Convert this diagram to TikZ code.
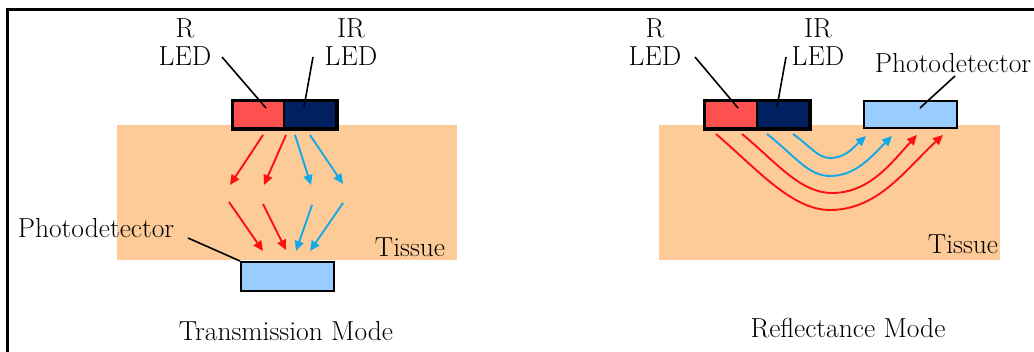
\documentclass[tikz,border=0pt]{standalone}
\usetikzlibrary{arrows.meta}
\definecolor{tissue}{HTML}{FDCB98}
\definecolor{ledred}{HTML}{FF5050}
\definecolor{lednavy}{HTML}{002060}
\definecolor{pdblue}{HTML}{99CCFF}
\definecolor{rayred}{HTML}{FF1010}
\definecolor{rayblue}{HTML}{12AAE6}
\tikzset{
  lbl/.style={font=\fontsize{27.5}{28}\selectfont, inner sep=0pt, align=center},
  tissuebox/.style={fill=tissue, draw=none},
  part/.style={draw=black, line width=2.4pt, inner sep=0pt, anchor=north west},
  leader/.style={draw=black, line width=1.6pt},
  ray/.style={line width=1.9pt, -{Triangle[length=10pt,width=9pt]}},
}
\begin{document}
\begin{tikzpicture}[x=1pt, y=-1pt]
\useasboundingbox (0,0) rectangle (1034,352);
\fill[white] (0,0) rectangle (1034,352);
% outer frame
\draw[line width=2.2pt] (7.5,352) -- (7.5,9.5) -- (1034,9.5);

% ---------------- transmission mode ----------------
\path[tissuebox] (117,125) rectangle (457,260);
\node[part, fill=ledred, minimum width=51pt, minimum height=27pt] (tr) at (232,100) {};
\node[part, fill=lednavy, minimum width=52pt, minimum height=27pt] (tir) at (283,100) {};
\draw[line width=2.4pt] (tr.north west) rectangle (tir.south east);
\node[part, fill=pdblue, minimum width=93pt, minimum height=29pt] (tpd) at (240,261) {};

\node[lbl] (trl) at (185,42) {R\\LED};
\node[lbl] (tirl) at (351,42) {IR\\LED};
\node[lbl] (tpdl) at (96,228) {Photodetector};
\node[lbl] (ttis) at (410,247) {Tissue};
\node[lbl] (tmode) at (286,331) {Transmission Mode};

\coordinate (trin) at (266,108);
\coordinate (tirin) at (304,107);
\draw[leader] (222,57) -- (trin);
\draw[leader] (313,57) -- (tirin);
\draw[leader] (188,238) -- (tpd.north west);

% rays spreading out of the LEDs
\draw[ray, rayred] (263,135) -- (230,185);
\draw[ray, rayred] (286,135) -- (264,185);
\draw[ray, rayblue] (295,135) -- (311,185);
\draw[ray, rayblue] (310,135) -- (343,184);
% rays converging on the detector
\draw[ray, rayred] (229,202) -- (263,251);
\draw[ray, rayred] (263,204) -- (286,250);
\draw[ray, rayblue] (312,205) -- (296,251);
\draw[ray, rayblue] (343,203) -- (310,251);

% ---------------- reflectance mode ----------------
\path[tissuebox] (659,125) rectangle (1000,260);
\node[part, fill=ledred, minimum width=52pt, minimum height=27pt] (rr) at (704,100) {};
\node[part, fill=lednavy, minimum width=52pt, minimum height=27pt] (rir) at (756,100) {};
\draw[line width=2.4pt] (rr.north west) rectangle (rir.south east);
\node[part, fill=pdblue, minimum width=93pt, minimum height=27pt] (rpd) at (863,100) {};

\node[lbl] (rrl) at (655,42) {R\\LED};
\node[lbl] (rirl) at (818,42) {IR\\LED};
\node[lbl] (rpdl) at (953,63) {Photodetector};
\node[lbl] (rtis) at (963,244) {Tissue};
\node[lbl] (rmode) at (848,328) {Reflectance Mode};

\coordinate (rrin) at (738,108);
\coordinate (ririn) at (777,107);
\coordinate (rpdin) at (920,108);
\draw[leader] (695,57) -- (rrin);
\draw[leader] (786,57) -- (ririn);
\draw[leader] (955,76) -- (rpdin);

% curved paths from the LEDs back up to the detector
\draw[ray, rayred] (716,134) .. controls (758,170) and (792,210) .. (830,210)
  .. controls (878,210) and (905,170) .. (943,135);
\draw[ray, rayred] (742,134) .. controls (776,162) and (800,193) .. (832,193)
  .. controls (870,193) and (892,162) .. (917,135);
\draw[ray, rayblue] (767,134) .. controls (794,155) and (808,176) .. (830,176)
  .. controls (856,176) and (872,156) .. (892,136);
\draw[ray, rayblue] (793,134) .. controls (810,146) and (818,158) .. (830,158)
  .. controls (845,158) and (853,148) .. (866,136);
\end{tikzpicture}
\end{document}
